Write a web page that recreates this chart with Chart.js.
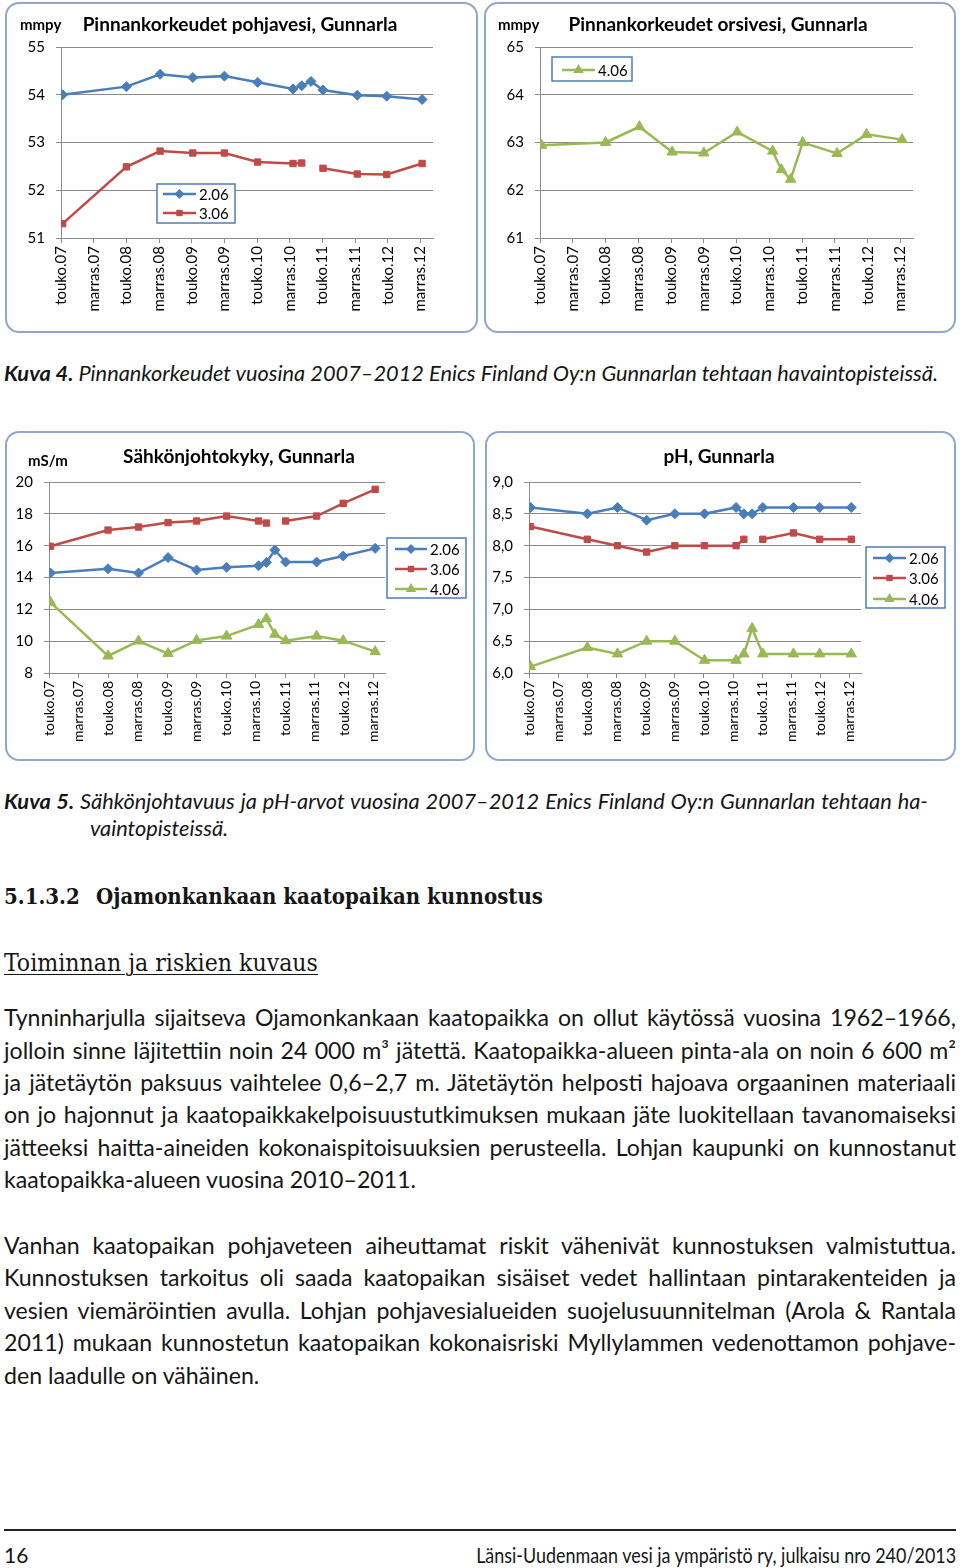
<!DOCTYPE html>
<html>
<head>
<meta charset="utf-8">
<script src="https://cdn.jsdelivr.net/npm/chart.js@4.4.1/dist/chart.umd.min.js"></script>
<style>
  body { margin: 0; background: #fff; }
  #page { position: relative; width: 960px; height: 1568px; overflow: hidden; font-family: Lato, sans-serif; color: #161616; }
  .frame { position: absolute; border: 2px solid #8ea7d0; border-radius: 14px; background: #fff; overflow: hidden; }
  .frame canvas { display: block; }
  .ln { position: absolute; left: 4px; white-space: nowrap; height: 32px; line-height: 32px; }
  .body { width: 952px; font-size: 21px; }
  .cap { font-style: italic; font-size: 20px; }
  .j { white-space: normal; text-align: justify; text-align-last: justify; }
  .serif { font-family: "DejaVu Serif Condensed", "DejaVu Serif", serif; font-stretch: condensed; }
  .h1 { font-weight: bold; font-size: 22px; }
  .h2 { font-size: 24px; text-decoration: underline; text-decoration-thickness: 1px; text-underline-offset: 3px; }
  #rule { position: absolute; left: 4px; top: 1529px; width: 952px; height: 2px; background: #222; }
  .foot { font-size: 21px; }
</style>
</head>
<body>
<div id="page">
  <div class="frame" style="left:5px;top:2px;"><canvas id="gwChart" width="469" height="327"></canvas></div>
  <div class="frame" style="left:484px;top:2px;"><canvas id="perchChart" width="468" height="327"></canvas></div>
  <div class="frame" style="left:5px;top:431px;"><canvas id="condChart" width="466" height="326"></canvas></div>
  <div class="frame" style="left:485px;top:431px;"><canvas id="phChart" width="467" height="326"></canvas></div>

  <div class="ln cap" id="cap4" style="top:357px;"><b>Kuva 4.</b> Pinnankorkeudet vuosina 2007–2012 Enics Finland Oy:n Gunnarlan tehtaan havaintopisteissä.</div>
  <div class="ln cap" id="cap5a" style="top:785px;width:924px;"><b>Kuva 5.</b> Sähkönjohtavuus ja pH-arvot vuosina 2007–2012 Enics Finland Oy:n Gunnarlan tehtaan ha-</div>
  <div class="ln cap" id="cap5b" style="top:812px;left:90px;">vaintopisteissä.</div>

  <div class="ln serif h1" id="hNum" style="top:880px;">5.1.3.2</div>
  <div class="ln serif h1" id="hText" style="top:880px;left:96px;">Ojamonkankaan kaatopaikan kunnostus</div>
  <div class="ln serif h2" id="sub" style="top:947px;">Toiminnan ja riskien kuvaus</div>

  <div class="ln body jl" style="top:1001px;">Tynninharjulla sijaitseva Ojamonkankaan kaatopaikka on ollut käytössä vuosina 1962–1966,</div>
  <div class="ln body jl" style="top:1034px;">jolloin sinne läjitettiin noin 24 000 m³ jätettä. Kaatopaikka-alueen pinta-ala on noin 6 600 m²</div>
  <div class="ln body jl" style="top:1066px;">ja jätetäytön paksuus vaihtelee 0,6–2,7 m. Jätetäytön helposti hajoava orgaaninen materiaali</div>
  <div class="ln body jl" style="top:1098px;">on jo hajonnut ja kaatopaikkakelpoisuustutkimuksen mukaan jäte luokitellaan tavanomaiseksi</div>
  <div class="ln body jl" style="top:1131px;">jätteeksi haitta-aineiden kokonaispitoisuuksien perusteella. Lohjan kaupunki on kunnostanut</div>
  <div class="ln body" style="top:1163px;">kaatopaikka-alueen vuosina 2010–2011.</div>

  <div class="ln body jl" style="top:1229px;">Vanhan kaatopaikan pohjaveteen aiheuttamat riskit vähenivät kunnostuksen valmistuttua.</div>
  <div class="ln body jl" style="top:1261px;">Kunnostuksen tarkoitus oli saada kaatopaikan sisäiset vedet hallintaan pintarakenteiden ja</div>
  <div class="ln body jl" style="top:1294px;">vesien viemäröintien avulla. Lohjan pohjavesialueiden suojelusuunnitelman (Arola &amp; Rantala</div>
  <div class="ln body jl" style="top:1326px;">2011) mukaan kunnostetun kaatopaikan kokonaisriski Myllylammen vedenottamon pohjave-</div>
  <div class="ln body" style="top:1359px;">den laadulle on vähäinen.</div>

  <div id="rule"></div>
  <div class="ln foot" style="top:1539px;">16</div>
  <div class="ln foot" id="footR" style="top:1539px;left:auto;right:4px;transform-origin:right center;">Länsi-Uudenmaan vesi ja ympäristö ry, julkaisu nro 240/2013</div>
</div>

<script>
// sampling dates as months since May 2007 (touko.07 = 0)
const sampleMonths = [0.3, 12, 18.2, 24.2, 30, 36.1, 42.6, 44.2, 45.9, 48.1, 54.4, 59.8, 66.3];
const tickMonths = [0, 6, 12, 18, 24, 30, 36, 42, 48, 54, 60, 66];
const tickLabels = ["touko.07", "marras.07", "touko.08", "marras.08", "touko.09", "marras.09",
  "touko.10", "marras.10", "touko.11", "marras.11", "touko.12", "marras.12"];

// groundwater level, mmpy
const gwLevel206 = [54.00, 54.17, 54.43, 54.36, 54.39, 54.26, 54.12, 54.19, 54.28, 54.10, 53.99, 53.97, 53.90];
const gwLevel306 = [51.30, 52.49, 52.82, 52.78, 52.78, 52.59, 52.56, 52.57, null, 52.46, 52.34, 52.33, 52.56];
// perched water level, mmpy
const perchLevel406 = [62.94, 63.00, 63.33, 62.80, 62.78, 63.22, 62.82, 62.43, 62.23, 63.00, 62.77, 63.17, 63.06];
// conductivity, mS/m
const cond206 = [14.28, 14.55, 14.28, 15.25, 14.47, 14.64, 14.74, 14.95, 15.73, 14.97, 14.97, 15.35, 15.83];
const cond306 = [15.96, 16.98, 17.17, 17.45, 17.55, 17.86, 17.55, 17.42, null, 17.55, 17.86, 18.66, 19.54];
const cond406 = [12.44, 9.07, 10.01, 9.22, 10.05, 10.32, 11.04, 11.41, 10.43, 10.03, 10.32, 10.03, 9.34];
// pH
const ph206 = [8.6, 8.5, 8.6, 8.4, 8.5, 8.5, 8.6, 8.5, 8.5, 8.6, 8.6, 8.6, 8.6];
const ph306 = [8.3, 8.1, 8.0, 7.9, 8.0, 8.0, 8.0, 8.1, null, 8.1, 8.2, 8.1, 8.1];
const ph406 = [6.1, 6.4, 6.3, 6.5, 6.5, 6.2, 6.2, 6.3, 6.7, 6.3, 6.3, 6.3, 6.3];

const BLUE = "#4a7ebb", RED = "#be4b48", GREEN = "#98b954", GRID = "#8a8a8a";

// ---- page text fitting (Calibri/Cambria are not installed) ----
function textWidth(el) {
  const r = document.createRange();
  r.selectNodeContents(el);
  return r.getBoundingClientRect().width;
}
function scaleFont(els, k) {
  els.forEach(el => {
    const s = parseFloat(getComputedStyle(el).fontSize);
    el.style.fontSize = (s * k) + "px";
  });
}
const bodyLines = [...document.querySelectorAll(".body")];
let kBody = Infinity;
document.querySelectorAll(".jl").forEach(el => { kBody = Math.min(kBody, 940 / textWidth(el)); });
scaleFont(bodyLines, kBody);
document.querySelectorAll(".jl").forEach(el => el.classList.add("j"));

const caps = [...document.querySelectorAll(".cap")];
const cap4 = document.getElementById("cap4"), cap5a = document.getElementById("cap5a");
scaleFont(caps, Math.min(946 / textWidth(cap4), 914 / textWidth(cap5a)));
cap5a.classList.add("j");

const hText = document.getElementById("hText");
const kH = 447 / textWidth(hText);
scaleFont([hText, document.getElementById("hNum")], kH);
const sub = document.getElementById("sub");
scaleFont([sub], 314 / textWidth(sub));
const footR = document.getElementById("footR");
footR.style.transform = "scaleX(" + (480 / textWidth(footR)) + ")";

// ---- charts ----
function series(label, values, color, style, radius) {
  return {
    label,
    data: sampleMonths.map((m, i) => ({ x: m, y: values[i] })),
    borderColor: color,
    backgroundColor: color,
    borderWidth: 2.5,
    pointStyle: style,
    pointRadius: radius,
    pointHoverRadius: radius,
    pointBorderWidth: 1,
    spanGaps: false,
    tension: 0,
  };
}

function marker(ctx, style, x, y, r) {
  ctx.beginPath();
  if (style === "rectRot") {
    ctx.moveTo(x, y - r); ctx.lineTo(x + r, y); ctx.lineTo(x, y + r); ctx.lineTo(x - r, y);
  } else if (style === "rect") {
    const s = r * Math.SQRT1_2;
    ctx.rect(x - s, y - s, 2 * s, 2 * s);
  } else {
    const w = r * Math.sqrt(3) / 2;
    ctx.moveTo(x, y - r); ctx.lineTo(x + w, y + r / 2); ctx.lineTo(x - w, y + r / 2);
  }
  ctx.closePath();
  ctx.fill();
}

const decor = {
  id: "decor",
  afterDraw(chart, args, o) {
    const ctx = chart.ctx;
    ctx.save();
    ctx.fillStyle = "#000";
    ctx.textBaseline = "middle";
    ctx.textAlign = "center";
    ctx.font = "bold 19px Lato";
    ctx.fillText(o.title, o.titleX, o.titleY);
    if (o.unit) {
      ctx.textAlign = "left";
      ctx.font = "bold 15px Lato";
      ctx.fillText(o.unit, o.unitX, o.unitY);
    }
    const L = o.legend;
    ctx.fillStyle = "#fff";
    ctx.fillRect(L.x, L.y, L.w, L.h);
    ctx.strokeStyle = "#4f7cb8";
    ctx.lineWidth = 1.5;
    ctx.strokeRect(L.x, L.y, L.w, L.h);
    chart.data.datasets.forEach((ds, i) => {
      const y = L.rows[i];
      ctx.strokeStyle = ds.borderColor;
      ctx.lineWidth = 2.5;
      ctx.beginPath();
      ctx.moveTo(L.x1, y);
      ctx.lineTo(L.x2, y);
      ctx.stroke();
      ctx.fillStyle = ds.backgroundColor;
      marker(ctx, ds.pointStyle, (L.x1 + L.x2) / 2, y, ds.pointRadius);
      ctx.fillStyle = "#000";
      ctx.textAlign = "left";
      ctx.font = "15px Lato";
      ctx.fillText(ds.label, L.x2 + 3, y + 1);
    });
    ctx.restore();
  },
};

function buildChart(id, c) {
  return new Chart(document.getElementById(id), {
    type: "line",
    data: { datasets: c.datasets },
    options: {
      responsive: false,
      animation: false,
      events: [],
      layout: { padding: c.padding },
      plugins: { legend: { display: false }, title: { display: false }, tooltip: { enabled: false }, decor: c.decor },
      scales: {
        x: {
          type: "linear",
          min: 0,
          max: 68.3,
          afterBuildTicks: s => { s.ticks = tickMonths.map(v => ({ value: v })); },
          afterFit: s => { s.height = c.xH; },
          grid: { drawOnChartArea: false, drawTicks: true, tickLength: 5, color: GRID },
          border: { color: GRID },
          ticks: {
            autoSkip: false, minRotation: 90, maxRotation: 90, padding: 3, color: "#000",
            font: { family: "Lato", size: c.xFont },
            callback: v => tickLabels[tickMonths.indexOf(v)],
          },
        },
        y: {
          min: c.yMin,
          max: c.yMax,
          afterFit: s => { s.width = c.yW; },
          grid: { color: GRID, tickLength: 5 },
          border: { color: GRID },
          ticks: { stepSize: c.yStep, padding: 11, color: "#000", font: { family: "Lato", size: 15 }, callback: c.yFmt },
        },
      },
    },
    plugins: [decor],
  });
}

buildChart("gwChart", {
  datasets: [
    series("2.06", gwLevel206, BLUE, "rectRot", 5),
    series("3.06", gwLevel306, RED, "rect", 4.5),
  ],
  padding: { left: 10, top: 43, right: 43, bottom: 5 },
  yW: 44, xH: 88, xFont: 15,
  yMin: 51, yMax: 55, yStep: 1, yFmt: v => v,
  decor: {
    title: "Pinnankorkeudet pohjavesi, Gunnarla", titleX: 233, titleY: 21,
    unit: "mmpy", unitX: 13, unitY: 21,
    legend: { x: 150, y: 180, w: 78, h: 39, rows: [190, 209], x1: 156, x2: 189 },
  },
});

buildChart("perchChart", {
  datasets: [series("4.06", perchLevel406, GREEN, "triangle", 6)],
  padding: { left: 10, top: 43, right: 41, bottom: 5 },
  yW: 44, xH: 88, xFont: 15,
  yMin: 61, yMax: 65, yStep: 1, yFmt: v => v,
  decor: {
    title: "Pinnankorkeudet orsivesi, Gunnarla", titleX: 232, titleY: 21,
    unit: "mmpy", unitX: 12, unitY: 21,
    legend: { x: 66, y: 53, w: 80, h: 24, rows: [66], x1: 76, x2: 109 },
  },
});

buildChart("condChart", {
  datasets: [
    series("2.06", cond206, BLUE, "rectRot", 5),
    series("3.06", cond306, RED, "rect", 4.5),
    series("4.06", cond406, GREEN, "triangle", 6),
  ],
  padding: { left: 2, top: 49, right: 88, bottom: 3 },
  yW: 40, xH: 83, xFont: 14,
  yMin: 8, yMax: 20, yStep: 2, yFmt: v => v,
  decor: {
    title: "Sähkönjohtokyky, Gunnarla", titleX: 232, titleY: 24,
    unit: "mS/m", unitX: 21, unitY: 28,
    legend: { x: 380, y: 105, w: 79, h: 60, rows: [116, 136, 156], x1: 388, x2: 420 },
  },
});

buildChart("phChart", {
  datasets: [
    series("2.06", ph206, BLUE, "rectRot", 5),
    series("3.06", ph306, RED, "rect", 4.5),
    series("4.06", ph406, GREEN, "triangle", 6),
  ],
  padding: { left: 2, top: 49, right: 93, bottom: 3 },
  yW: 40, xH: 83, xFont: 14,
  yMin: 6, yMax: 9, yStep: 0.5, yFmt: v => v.toFixed(1).replace(".", ","),
  decor: {
    title: "pH, Gunnarla", titleX: 232, titleY: 24,
    legend: { x: 379, y: 114, w: 79, h: 61, rows: [125, 145, 166], x1: 386, x2: 419 },
  },
});
</script>
</body>
</html>
